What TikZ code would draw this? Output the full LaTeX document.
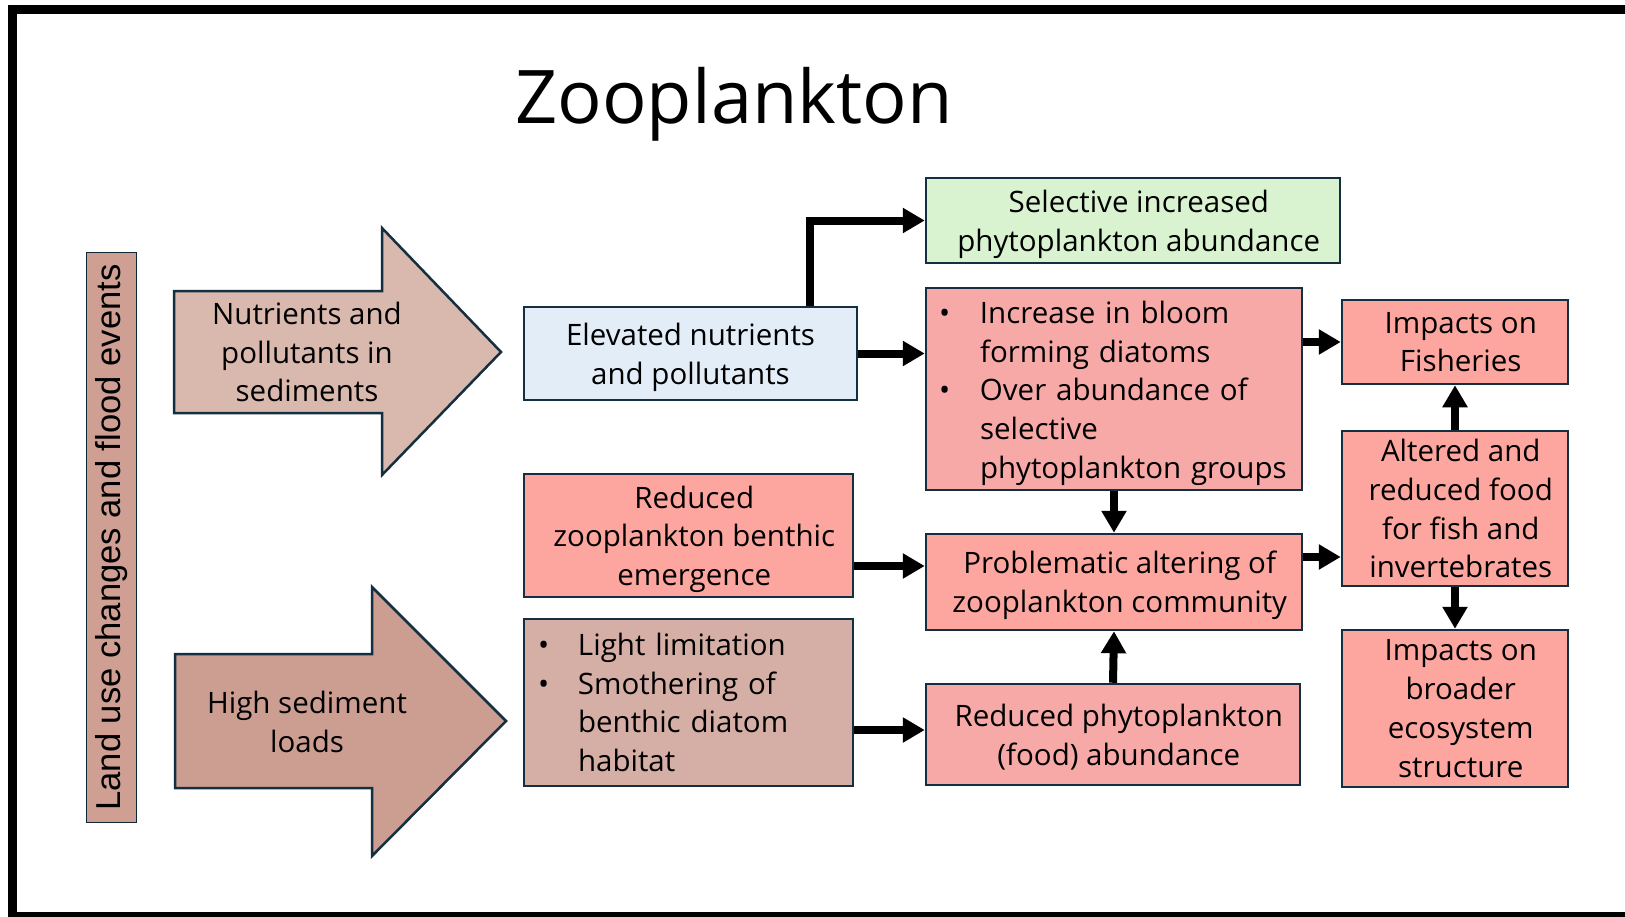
\documentclass[tikz,border=0pt]{standalone}
\usepackage{fontspec}
\setmainfont{Open Sans}
\newfontfamily\arialf{Liberation Sans}
\usetikzlibrary{arrows.meta}
\definecolor{bord}{HTML}{132F40}
\definecolor{greenf}{HTML}{D9F2D0}
\definecolor{bluef}{HTML}{E3EDF8}
\definecolor{pinkf}{HTML}{F6A9A7}
\definecolor{salmf}{HTML}{FDA69F}
\definecolor{lightf}{HTML}{D5AEA5}
\definecolor{barf}{HTML}{CF9F94}
\definecolor{arrAf}{HTML}{D9B8AE}
\definecolor{arrBf}{HTML}{CC9D91}
\newcommand{\boxfont}{\fontsize{29.5pt}{38.7pt}\selectfont}
\newcommand{\bitem}[2]{\mbox{\makebox[#1][l]{\hspace*{-5pt}\textbullet}#2}}
\newcommand{\citem}[2]{\mbox{\hspace*{#1}#2}}
\newcommand{\sh}[1]{\hspace*{11.5pt}#1}
\begin{document}
\begin{tikzpicture}[x=1pt,y=-1pt,
  box/.style={draw=bord, line width=2.5pt, inner sep=0pt, align=center, font=\boxfont, text=black},
  cbox/.style={box, text depth=0pt},
  conn/.style={line width=8pt, -{Triangle[length=22pt,width=24pt]}},
  blockarrow/.style={draw=bord, line width=2.5pt, line join=miter},
  lbl/.style={inner sep=0pt, align=center, font=\boxfont, text=black}
]
\clip (0,0) rectangle (1625,916);
\fill[white] (0,0) rectangle (1625,916);
% frame
\draw[line width=9pt] (1660,916.5) -- (12,916.5) -- (12,9.5) -- (1660,9.5);

% title
\node[inner sep=0pt, anchor=base, font=\fontsize{74pt}{80pt}\selectfont] (title) at (734,123) {Zooplankton};

% vertical bar
\node[draw=bord!80!black, line width=1.5pt, fill=barf, rotate=90, minimum width=570pt, minimum height=50pt, inner sep=0pt, font=\arialf\fontsize{34.6pt}{40pt}\selectfont] (land) at (111.5,537.5) {Land use changes and flood events};

% block arrows
\draw[blockarrow, fill=arrAf] (174,291) -- (382,291) -- (382,228) -- (501,352) -- (382,475) -- (382,413) -- (174,413) -- cycle;
\node[lbl] (nut) at (307,352) {Nutrients and\\pollutants in\\sediments};
\draw[blockarrow, fill=arrBf] (175,654) -- (372,654) -- (372,587) -- (506,721) -- (372,856) -- (372,788) -- (175,788) -- cycle;
\node[lbl] (sed) at (307,722) {High sediment\\loads};

% boxes
\node[cbox, fill=greenf, minimum width=414pt, minimum height=85pt] (green) at (1133,220.5) {\sh{Selective increased}\\\sh{phytoplankton abundance}};
\node[cbox, fill=bluef, minimum width=333pt, minimum height=93pt] (elev) at (690.5,353.5) {Elevated nutrients\\and pollutants};
\node[box, fill=pinkf, minimum width=376pt, minimum height=202pt, align=left, text width=340pt, inner xsep=18pt] (bloom) at (1114,389)
  {\rule{0pt}{31pt}\bitem{36pt}{Increase in bloom}\\\citem{36pt}{forming diatoms}\\\bitem{36pt}{Over abundance of}\\\citem{36pt}{selective}\\\citem{36pt}{phytoplankton groups}};
\node[cbox, fill=salmf, minimum width=226pt, minimum height=84pt] (fish) at (1455,342) {\sh{Impacts on}\\\sh{Fisheries}};
\node[cbox, fill=salmf, minimum width=226pt, minimum height=155pt] (alt) at (1455,508.5) {\sh{Altered and}\\\sh{reduced food}\\\sh{for fish and}\\\sh{invertebrates}};
\node[cbox, fill=salmf, minimum width=226pt, minimum height=157pt] (broad) at (1455,708.5) {\sh{Impacts on}\\\sh{broader}\\\sh{ecosystem}\\\sh{structure}};
\node[cbox, fill=salmf, minimum width=329pt, minimum height=123pt] (redzoo) at (688.5,535.5) {\sh{Reduced}\\\sh{zooplankton benthic}\\\sh{emergence}};
\node[cbox, fill=salmf, minimum width=376pt, minimum height=96pt] (prob) at (1114,582) {\sh{Problematic altering of}\\\sh{zooplankton community}};
\node[box, fill=lightf, minimum width=329pt, minimum height=167pt, align=left, text width=291pt, inner xsep=19pt] (light) at (688.5,702.5)
  {\bitem{35pt}{Light limitation}\\\bitem{35pt}{Smothering of}\\\citem{35pt}{benthic diatom}\\\citem{35pt}{habitat}};
\node[cbox, fill=pinkf, minimum width=374pt, minimum height=101pt] (phyto) at (1113,734.5) {\sh{Reduced phytoplankton}\\\sh{(food) abundance}};

% helper coordinates
\coordinate (c1) at (810,0);
\coordinate (c4) at (0,566);
\coordinate (c5) at (0,730);
\coordinate (c8) at (0,557);

% connectors
\draw[conn] (elev.north -| c1) |- (green.west);
\draw[conn] (elev.east) -- (elev.east -| bloom.west);
\draw[conn] (bloom.south) -- (prob.north);
\draw[conn] (redzoo.east |- c4) -- (prob.west |- c4);
\draw[conn] (light.east |- c5) -- (phyto.west |- c5);
\draw[conn] (phyto.north) -- (prob.south);
\draw[conn] (bloom.east |- fish.west) -- (fish.west);
\draw[conn] (prob.east |- c8) -- (alt.west |- c8);
\draw[conn] (alt.north) -- (fish.south);
\draw[conn] (alt.south) -- (broad.north);
\end{tikzpicture}
\end{document}
